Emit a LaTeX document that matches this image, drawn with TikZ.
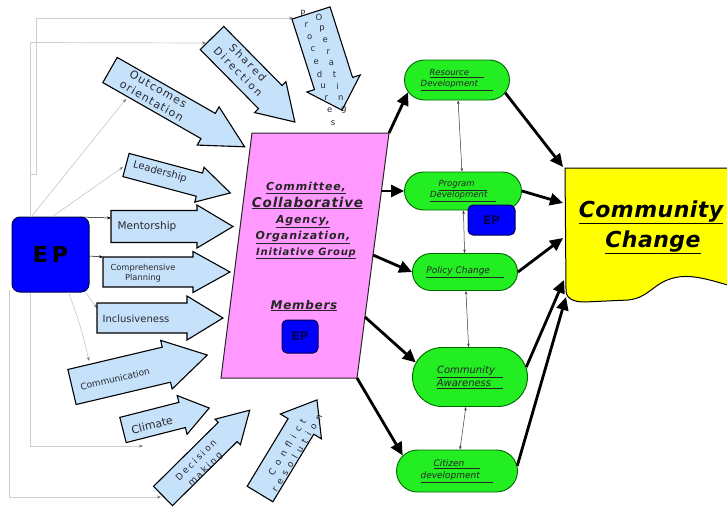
\documentclass[tikz,border=0pt]{standalone}
\usepackage{fontspec}
\setmainfont{DejaVu Sans}
\usetikzlibrary{arrows.meta,shapes.misc,calc}

\definecolor{arrowblue}{RGB}{198,226,250}
\definecolor{pinkbox}{RGB}{255,153,255}
\definecolor{greenbox}{RGB}{34,238,34}
\definecolor{epblue}{RGB}{0,0,255}
\definecolor{epborder}{RGB}{0,0,80}
\definecolor{cyellow}{RGB}{255,255,0}
\definecolor{glinecol}{RGB}{205,205,205}
\definecolor{txtdark}{RGB}{40,40,50}

\tikzset{
  blockarr/.style={draw=black, line width=1.1pt, fill=arrowblue, line join=miter},
  alabel/.style={text=txtdark, align=center, inner sep=0pt},
  oplet/.style={text=txtdark, inner sep=0pt, font=\fontsize{8.5}{9}\selectfont},
  epbox/.style={draw=epborder, line width=1pt, fill=epblue, rounded corners=8pt, inner sep=0pt, text=black},
  greenpill/.style={rounded rectangle, draw=black!60!green, line width=0.9pt, fill=greenbox, inner sep=0pt,
    font=\fontsize{8.5}{11}\selectfont\itshape, text=black!85, align=center},
  pgram/.style={fill=pinkbox, draw=black!85, line width=1pt},
  pgtext/.style={inner sep=0pt, anchor=base, text=black!85, font=\fontsize{11}{13}\selectfont\bfseries\itshape\addfontfeature{LetterSpace=8}},
  cctext/.style={inner sep=0pt, anchor=base, text=black, font=\fontsize{22}{26}\selectfont\bfseries\itshape\addfontfeature{LetterSpace=2}},
  bigarr/.style={draw=black, line width=2.8pt, -{Triangle[length=13pt,width=12pt]}},
  thinarr/.style={draw=black!80, line width=0.5pt, {Stealth[length=3.5pt,width=2.5pt]}-{Stealth[length=3.5pt,width=2.5pt]}},
  gline/.style={draw=glinecol, line width=0.7pt, -{Stealth[length=4pt,width=3pt,color=black!55]}},
  cline/.style={draw=black, line width=0.5pt, -{Stealth[length=4pt,width=3pt]}},
}

% name, x, y, angle, length, shaft width, head width, head length
\newcommand\blockarrow[8]{%
  \begin{scope}[shift={(#2,#3)},rotate=#4]
    \draw[blockarr] (0,{-(#6)/2}) -- ({#5-#8},{-(#6)/2}) -- ({#5-#8},{-(#7)/2}) -- (#5,0)
      -- ({#5-#8},{(#7)/2}) -- ({#5-#8},{(#6)/2}) -- (0,{(#6)/2}) -- cycle;
    \coordinate (#1-tail) at (0,0);
    \coordinate (#1-tip) at (#5,0);
  \end{scope}}

\begin{document}
\begin{tikzpicture}[x=1pt,y=-1pt]
\useasboundingbox (0,0) rectangle (727,506);

% ---------- EP box ----------
\node[epbox, minimum width=77pt, minimum height=75pt, font=\fontsize{22}{22}\selectfont\bfseries] (ep) at (50.5,254.5) {E\kern4pt P};

% ---------- connector end points on the block arrows ----------
\coordinate (sd-in) at (206,43);
\coordinate (op-in) at (293,18);
\coordinate (oo-in) at (126,99);
\coordinate (ld-in) at (123,167);
\coordinate (mt-in) at (111,218);
\coordinate (cp-in) at (103,257);
\coordinate (in-in) at (97,308);
\coordinate (cm-in) at (89,361);
\coordinate (cl-in) at (143,446);
\coordinate (dm-in) at (161,497);

% ---------- thin connectors from EP ----------
\draw[gline] ($(ep.north west)+(19,0)$) -- ++(0,-174) -- (sd-in);
\draw[gline] ($(ep.north west)+(19,-42)$) -- ++(6,0) |- (op-in);
\draw[gline] ($(ep.north west)+(20,0)$) -- (oo-in);
\draw[gline] ($(ep.north west)+(41,0)$) -- (ld-in);
\draw[cline] ($(ep.north east)+(-9,0.5)$) -- (mt-in);
\draw[cline] ($(ep.east)+(0,1.5)$) -- (cp-in);
\draw[gline] ($(ep.south east)+(-4,0)$) -- (in-in);
\draw[gline] ($(ep.south)+(18,0)$) to[bend left=4] (cm-in);
\draw[gline] ($(ep.south west)+(19,0)$) |- (cl-in);
\draw[gline] ($(ep.south west)+(-2,-3)$) |- (dm-in);

% ---------- blue block arrows ----------
\blockarrow{oo}{110}{70}{-29.7}{155}{29}{44}{42}
\blockarrow{sd}{212}{38}{-45.4}{118}{33}{44}{35}
\blockarrow{op}{311}{13}{-72.3}{102}{40}{56}{28}
\blockarrow{ld}{126}{165}{-15}{108}{24}{36}{32}
\blockarrow{mt}{111}{226.5}{0}{122}{32}{43}{36}
\blockarrow{cp}{103}{272}{0}{127}{30}{41}{37}
\blockarrow{in}{97}{318}{0}{126}{30}{44}{36}
\blockarrow{cm}{72}{387}{13.3}{139}{36}{50}{42}
\blockarrow{cl}{123}{430}{14.3}{89}{26}{40}{28}
\blockarrow{dm}{163}{496}{44.7}{122}{27}{36}{31}
\blockarrow{cr}{260}{494}{58.8}{110}{30}{48}{31}

% ---------- arrow labels ----------
\node[alabel, rotate=-29.7, font=\fontsize{11}{13.5}\selectfont\addfontfeature{LetterSpace=10}] (oo-text) at (155,95) {Outcomes\\orientation};
\node[alabel, rotate=-45.4, font=\fontsize{10.5}{13.5}\selectfont\addfontfeature{LetterSpace=20}] (sd-text) at (243,67) {Shared\\Direction};
\node[alabel, rotate=-15, font=\fontsize{10}{12}\selectfont] (ld-text) at (160,172) {Leadership};
\node[alabel, font=\fontsize{10.5}{12}\selectfont] (mt-text) at (147,227) {Mentorship};
\node[alabel, font=\fontsize{8.3}{10}\selectfont] (cp-text) at (143,273) {Comprehensive\\Planning};
\node[alabel, font=\fontsize{10}{12}\selectfont] (in-text) at (136,319) {Inclusiveness};
\node[alabel, rotate=13.3, font=\fontsize{9}{11}\selectfont] (cm-text) at (115,379) {Communication};
\node[alabel, rotate=14.3, font=\fontsize{11}{13}\selectfont] (cl-text) at (152,425) {Climate};
\node[alabel, rotate=44.7, font=\fontsize{9}{12.7}\selectfont\addfontfeature{LetterSpace=24}] (dm-text) at (201,465) {Decision\\making};
\node[alabel, rotate=58.8, font=\fontsize{9}{11.5}\selectfont\addfontfeature{LetterSpace=55}] (cr-text) at (292,450) {Conflict\\resolution};
\foreach \l [count=\i from 0] in {O,p,e,r,a,t,i,n,g}
  \node[oplet] (opa\i) at ({319+3.1*\i},{17+11.6*\i}) {\l};
\foreach \l [count=\i from 0] in {P,r,o,c,e,d,u,r,e,s}
  \node[oplet] (opb\i) at ({303+3.33*\i},{13+12.2*\i}) {\l};

% ---------- pink parallelogram ----------
\coordinate (pgTL) at (252,133);
\coordinate (pgTR) at (389,133);
\coordinate (pgBR) at (357,378);
\coordinate (pgBL) at (221,378);
\draw[pgram] (pgTL) -- (pgTR) -- (pgBR) -- (pgBL) -- cycle;
\coordinate (pgR1) at (381,191);
\coordinate (pgR2) at (373,255);
\coordinate (pgR3) at (365,317);

\node[pgtext] (pg1) at (306,190) {\underline{Committee,}};
\node[pgtext, font=\fontsize{13.5}{15}\selectfont\bfseries\itshape\addfontfeature{LetterSpace=6}] (pg2) at (307.5,207) {\underline{Collaborative}};
\node[pgtext] (pg3) at (303,223) {\underline{Agency,}};
\node[pgtext] (pg4) at (303,239) {\underline{Organization,}};
\node[pgtext, font=\fontsize{10}{12}\selectfont\bfseries\itshape\addfontfeature{LetterSpace=8}] (pg5) at (306,255) {\underline{Initiative Group}};
\node[pgtext, font=\fontsize{12}{14}\selectfont\bfseries\itshape\addfontfeature{LetterSpace=6}] (pgm) at (304,309) {\underline{Members}};
\node[epbox, rounded corners=5pt, minimum width=36pt, minimum height=33pt, text=epborder, font=\fontsize{12}{12}\selectfont\bfseries] (ep2) at (300,336.5) {EP};

% ---------- green outcome nodes ----------
\node[greenpill, minimum width=105pt, minimum height=40pt] (res) at (457,80)
  {\underline{Resource\hspace{1.8em}}\\\underline{Development\hspace{1.8em}}};
\node[greenpill, minimum width=117pt, minimum height=38pt] (prog) at (463,191)
  {\underline{Program\hspace{1.5em}}\\\underline{Development\hspace{1em}}};
\node[greenpill, minimum width=105pt, minimum height=37pt, font=\fontsize{9}{11}\selectfont\itshape] (pol) at (465,272)
  {\underline{Policy Change\hspace{1.5em}}};
\node[greenpill, minimum width=115pt, minimum height=59pt, font=\fontsize{10}{13}\selectfont\itshape] (aw) at (470,377)
  {\underline{Community\hspace{0.8em}}\\\underline{Awareness\hspace{1.2em}}};
\node[greenpill, minimum width=121pt, minimum height=42pt, font=\fontsize{9}{12}\selectfont\itshape] (cit) at (457,471)
  {\underline{Citizen\hspace{1.8em}}\\\underline{development\hspace{1.5em}}};
\node[epbox, rounded corners=5pt, minimum width=47pt, minimum height=30pt, text=epborder, font=\fontsize{12}{12}\selectfont\bfseries] (ep3) at (491.5,220) {EP};

% ---------- thin links between outcomes ----------
\draw[thinarr] (res) -- (prog);
\draw[thinarr] (prog) -- (pol);
\draw[thinarr] (pol) -- (aw);
\draw[thinarr] (aw) -- (cit);

% ---------- community change document ----------
\path[fill=cyellow, draw=black, line width=1pt] (565,168) -- (735,168) -- (735,287)
  .. controls (712,281) and (690,272) .. (670,279)
  .. controls (652,285) and (648,298) .. (628,300)
  -- (585,302) .. controls (572,302) and (566,298) .. (566,290) -- cycle;
\node[cctext] (cc-t1) at (651,217) {\underline{Community}};
\node[cctext] (cc-t2) at (653,247) {\underline{Change}};
\coordinate (cc1) at (563,167);
\coordinate (cc2) at (563,203);
\coordinate (cc3) at (563,238);
\coordinate (cc4) at (564,280);
\coordinate (cc5) at (566,297);

% ---------- thick arrows ----------
\draw[bigarr] (pgTR) -- (res.194);
\draw[bigarr] (pgR1) -- (prog.west);
\draw[bigarr] (pgR2) -- (pol.west);
\draw[bigarr] (pgR3) -- (aw.165);
\draw[bigarr] (pgBR) -- (cit.164);
\draw[bigarr] (res.-15) -- (cc1);
\draw[bigarr] (prog.east) -- (cc2);
\draw[bigarr] (pol.east) -- (cc3);
\draw[bigarr] (aw.10) -- (cc4);
\draw[bigarr] (cit.5) -- (cc5);
\end{tikzpicture}
\end{document}
